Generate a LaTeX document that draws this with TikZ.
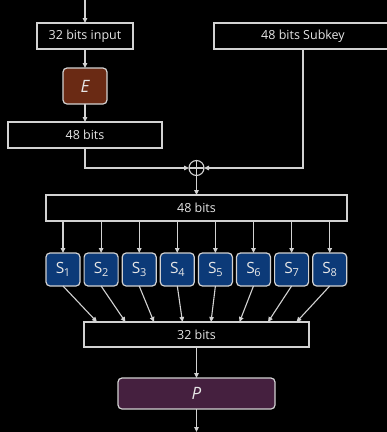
\documentclass[tikz,border=0pt]{standalone}
\usepackage{fontspec}
\setmainfont{Open Sans}
\usetikzlibrary{arrows.meta}
\definecolor{edge}{HTML}{D2D2D2}
\definecolor{txt}{HTML}{E6E6E6}
\definecolor{efill}{HTML}{6A2A14}
\definecolor{sfill}{HTML}{0C3A78}
\definecolor{pfill}{HTML}{45203F}
\tikzset{
  box/.style={draw=edge, line width=1.2pt, fill=black, text=txt, inner sep=0pt, outer sep=0pt, font=\fontsize{12.5}{14}\selectfont},
  rbox/.style={box, rounded corners=4pt},
  sbox/.style={rbox, fill=sfill, minimum width=34pt, minimum height=33pt, font=\fontsize{15.5}{17}\selectfont},
  conn/.style={draw=edge, line width=1.1pt, -{Triangle[length=5pt,width=4.5pt]}},
  plain/.style={draw=edge, line width=1.1pt},
}
\newcommand{\sname}[1]{S\kern-0.3pt{\fontsize{11}{11}\selectfont\raisebox{-2.5pt}{#1}}}
\begin{document}
\begin{tikzpicture}[x=1pt,y=-1pt]
\fill[black] (0,0) rectangle (387,432);
\useasboundingbox (0,0) rectangle (387,432);
\clip (0,0) rectangle (387,432);
\coordinate (top) at (85,0);
\coordinate (bot) at (196.5,432);
\node[box, minimum width=96pt, minimum height=26pt] (in) at (85,36) {32 bits input};
\node[rbox, fill=efill, minimum width=44pt, minimum height=36pt, font=\fontsize{17}{18}\selectfont\itshape] (E) at (85,86) {E};
\node[box, minimum width=154pt, minimum height=26pt] (b48a) at (85,135) {48 bits};
\node[box, minimum width=178pt, minimum height=26pt] (sub) at (303,36) {48 bits Subkey};
\node[circle, draw=edge, line width=1.1pt, minimum size=15pt, inner sep=0pt, outer sep=0pt] (xor) at (196.5,168) {};
\draw[plain] (xor.north) -- (xor.south) (xor.west) -- (xor.east);
\node[box, minimum width=301pt, minimum height=26pt] (b48b) at (196.5,208) {48 bits};
\foreach \i in {1,...,8} {
  \node[sbox] (s\i) at ({63+38.1*(\i-1)},269.5) {\sname{\i}};
}
\node[box, minimum width=225pt, minimum height=25pt] (b32) at (196.5,334.5) {32 bits};
\node[rbox, fill=pfill, minimum width=157pt, minimum height=31pt, font=\fontsize{17}{18}\selectfont\itshape] (P) at (196.5,393.5) {P};
\draw[conn] (top) -- (in);
\draw[conn] (in) -- (E);
\draw[conn] (E) -- (b48a);
\draw[conn] (b48a.south) |- (xor.west);
\draw[conn] (sub.south -| 303,0) |- (xor.east);
\draw[conn] (xor) -- (b48b);
\foreach \i in {1,...,8} {
  \draw[conn] (b48b.south -| s\i.north) -- (s\i.north);
  \draw[conn] (s\i.south) -- ({97+28.5*(\i-1)},322);
}
\draw[conn] (b32) -- (P);
\draw[conn] (P) -- (bot);
\end{tikzpicture}
\end{document}
